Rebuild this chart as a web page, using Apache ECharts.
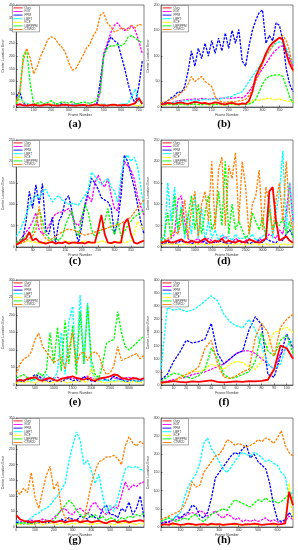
<!DOCTYPE html>
<html><head><meta charset="utf-8">
<script src="https://cdn.jsdelivr.net/npm/echarts@6/dist/echarts.min.js"></script>
<style>html,body{margin:0;padding:0;background:#fff}#c{width:298px;height:550px}</style>
</head><body><div id="c"></div>
<script>
const names = ["Ours","KGT","PPM","LBPT","KCF","LBP/PPM","CTMCD"];
const colors = ["#ff0000","#ff00ff","#0000ff","#00ffff","#ffff00","#00ff00","#ff8000"];
const captions = ["(a)","(b)","(c)","(d)","(e)","(f)","(g)","(h)"];

// (a)
const aFrames = [0,20,40,60,80,100,120,140,160,180,200,220,240,260,280,300,320,340,360,380,400,420,440,460,480,500,520,540,560,580,600,620,640,660,680,700,720];
const aOurs = [8,10,6,5,7,9,6,5,8,10,7,6,5,8,9,7,6,5,7,8,6,5,8,10,6,7,5,8,9,6,7,8,6,10,15,35,12];
const aKGT = [5,12,8,6,5,7,6,5,6,8,7,6,5,6,7,8,6,5,6,7,8,6,5,7,60,210,250,290,320,330,310,300,310,320,300,260,210];
const aPPM = [40,60,15,10,8,12,10,8,7,10,9,8,10,12,8,9,10,8,7,9,10,8,9,12,100,200,240,275,260,250,200,150,90,40,15,80,180];
const aLBPT = [10,40,20,15,10,8,12,10,9,8,10,12,9,8,10,9,8,10,12,9,8,10,9,8,10,12,8,10,9,8,12,10,15,40,70,20,15];
const aKCF = [15,30,20,12,8,10,15,8,6,10,12,8,5,7,10,8,6,5,8,7,10,6,5,8,10,7,6,8,5,7,9,6,8,10,7,5,8];
const aLBPPPM = [10,50,200,225,90,10,15,20,12,18,25,15,12,20,18,15,22,12,15,20,18,14,20,25,60,200,230,240,240,245,240,250,275,280,270,260,250];
const aCTMCD = [20,60,180,230,190,130,160,200,230,265,275,270,250,235,215,175,145,150,175,200,230,245,280,300,360,370,330,315,295,300,310,305,300,320,310,325,320];

// (b)
const bFrames = [0,10,20,30,40,50,60,70,80,90,100,110,120,130,140,150,160,170,180,190,200,210,220,230,240,250,260,270,280,290,300,310,320,330,340,350,360,370,380,390];
const bOurs = [5,6,8,7,6,8,9,7,6,8,10,9,7,8,6,7,9,8,6,5,7,8,6,5,7,6,12,30,60,75,88,105,118,126,131,136,132,105,85,72];
const bKGT = [3,5,6,8,10,12,13,14,15,15,16,15,17,16,15,16,17,16,18,17,18,17,18,19,18,22,30,40,55,65,75,85,95,105,112,118,120,110,95,80];
const bPPM = [5,8,12,18,22,30,28,40,70,110,80,115,95,125,100,130,105,135,110,145,115,150,125,152,90,80,120,150,170,185,190,125,140,130,165,160,130,75,45,30];
const bLBPT = [4,6,7,8,9,10,11,12,12,13,14,13,14,15,14,15,16,15,17,18,20,21,25,27,30,40,50,60,70,80,90,100,110,118,125,128,125,115,100,85];
const bKCF = [3,4,5,4,5,6,5,4,5,6,5,4,6,5,4,5,6,5,4,5,6,5,4,6,5,6,8,12,14,13,15,16,18,15,14,16,13,12,11,10];
const bLBPPPM = [5,4,6,5,4,5,6,5,4,5,6,5,4,6,5,4,5,6,5,4,5,6,5,4,6,5,6,8,15,30,45,55,60,62,63,63,60,40,20,8];
const bCTMCD = [8,10,12,15,18,22,28,34,45,60,50,55,60,50,45,40,20,12,10,9,10,11,10,12,13,15,22,35,50,65,85,100,110,120,130,135,140,130,110,70];

// (c)
const cFrames = bFrames.slice();
const cOurs = [5,10,15,20,35,15,20,12,10,8,10,12,8,10,9,12,8,10,11,9,10,8,12,10,10,40,75,30,10,9,12,10,10,55,66,30,10,8,12,15];
const cKGT = [10,15,25,35,45,60,80,40,30,35,50,65,78,80,82,85,90,75,55,50,70,95,120,105,150,168,150,140,160,120,90,85,150,200,190,180,160,120,95,75];
const cPPM = [5,8,20,60,130,90,145,100,148,40,30,70,10,60,75,110,120,85,40,10,50,100,130,160,150,135,115,110,105,90,30,60,120,215,200,170,140,100,60,30];
const cLBPT = [25,35,55,75,95,110,120,115,130,135,120,105,115,120,110,105,100,102,100,98,110,120,135,175,165,155,145,155,160,140,130,105,165,205,215,200,210,190,140,90];
const cKCF = [5,8,10,12,15,10,12,8,10,12,15,10,8,12,10,15,12,10,8,10,12,15,10,8,12,10,15,12,10,8,10,12,15,10,12,15,30,60,50,40];
const cLBPPPM = [10,15,20,25,30,35,60,90,60,30,20,15,20,15,25,50,70,85,40,25,70,100,80,40,25,30,40,60,90,45,30,60,25,35,50,60,70,75,80,85];
const cCTMCD = [5,8,10,15,20,25,40,95,30,20,15,20,25,30,35,40,42,40,38,35,30,28,30,32,35,38,40,42,45,48,50,52,55,60,65,70,80,90,100,110];

// (d)
const dFrames = [0,100,200,300,400,500,600,700,800,900,1000,1100,1200,1300,1400,1500,1600,1700,1800,1900,2000,2100,2200,2300,2400,2500,2600,2700,2800,2900,3000,3100,3200,3300,3400,3500,3600,3700,3800,3900];
const dOurs = [10,12,15,10,12,15,18,12,10,15,12,10,15,20,12,10,15,12,20,10,15,12,10,15,12,10,18,15,12,10,15,20,130,140,60,15,20,25,15,10];
const dKGT = [5,10,15,20,30,110,120,60,20,10,15,20,10,15,20,15,10,15,20,25,15,10,20,15,10,15,20,15,10,20,15,20,30,25,20,40,30,80,150,60];
const dPPM = [5,8,10,12,8,10,15,10,12,8,10,12,15,10,8,12,10,15,12,10,8,10,12,15,10,12,8,10,12,15,10,20,15,12,10,20,15,30,40,25];
const dLBPT = [20,10,150,60,140,30,100,20,80,30,120,20,90,15,60,20,40,15,30,20,25,15,30,20,20,25,20,30,15,20,25,30,120,20,80,130,225,40,150,60];
const dKCF = [5,6,8,5,7,6,5,8,6,5,7,6,8,5,6,7,5,6,8,5,7,6,5,8,6,5,7,6,8,5,6,7,5,6,8,5,7,6,5,8];
const dLBPPPM = [10,30,80,20,120,40,90,30,70,120,40,100,30,80,120,40,60,130,50,200,30,100,40,60,40,20,30,80,60,40,70,20,90,40,60,50,70,30,60,20];
const dCTMCD = [10,15,20,25,40,30,60,110,20,90,130,25,100,130,60,200,40,180,210,50,190,160,220,60,200,140,30,100,120,180,40,140,100,30,110,150,60,200,80,40];

// (e)
const eFrames = [0,100,200,300,400,500,600,700,800,900,1000,1100,1200,1300,1400,1500,1600,1700,1800,1900,2000,2100,2200,2300,2400,2500,2600,2700,2800,2900,3000,3100,3200,3300,3400];
const eOurs = [10,15,12,18,20,22,15,12,18,20,15,12,18,20,22,25,20,18,15,20,15,12,18,20,22,25,30,28,20,18,15,20,18,15,20];
const eKGT = [10,15,12,18,20,15,25,20,15,18,20,22,15,20,25,18,20,15,22,25,20,18,15,20,22,25,20,18,15,20,22,18,20,15,18];
const ePPM = [15,10,12,15,20,30,25,15,12,10,15,12,10,15,20,12,15,10,25,15,12,10,15,20,12,15,25,20,15,10,12,15,10,12,15];
const eLBPT = [10,12,15,10,12,15,20,15,30,20,15,40,150,30,180,225,50,257,60,235,40,20,15,12,15,10,12,15,10,12,15,10,12,10,15];
const eKCF = [5,8,6,10,8,6,12,8,10,6,8,10,12,8,6,10,8,12,10,8,50,15,10,8,6,10,8,12,10,8,6,10,8,6,8];
const eLBPPPM = [20,25,30,20,15,20,35,25,40,150,60,165,40,185,60,170,30,210,60,230,70,30,20,60,120,125,130,210,150,110,100,110,120,130,140];
const eCTMCD = [30,60,75,80,95,130,148,110,95,80,65,70,80,45,105,150,60,90,95,70,90,95,85,50,30,35,55,110,70,75,80,85,90,75,85];

// (f)
const fFrames = [0,5,10,15,20,25,30,35,40,45,50,55,60,65,70,75,80,85,90,95,100,105];
const fOurs = [10,12,15,12,10,14,12,15,18,12,10,12,14,12,15,14,16,20,60,150,140,100];
const fKGT = [10,15,20,25,30,40,45,50,60,70,80,100,120,130,130,120,100,80,60,120,140,100];
const fPPM = [20,40,90,125,170,160,165,175,235,120,80,100,120,130,210,260,230,40,30,110,195,140];
const fLBPT = [60,295,285,290,280,285,300,320,340,320,270,240,225,218,250,210,150,80,60,80,150,170];
const fKCF = [5,10,15,25,40,55,50,60,80,70,60,80,90,85,70,60,90,150,200,210,220,200];
const fLBPPPM = [15,30,45,40,30,25,35,60,140,100,40,25,30,40,50,90,200,130,110,170,190,120];
const fCTMCD = [5,10,15,30,40,50,70,140,170,80,30,25,35,50,60,180,235,200,110,220,250,270];

// (g)
const gFrames = [0,20,40,60,80,100,120,140,160,180,200,220,240,260,280,300,320,340,360,380,400,420,440,460,480,500,520,540,560,580,600,620,640,660,680];
const gOurs = [38,25,20,18,15,18,20,15,18,20,15,18,20,15,18,20,22,15,18,20,15,18,20,15,12,18,20,15,18,20,15,18,20,22,18];
const gKGT = [20,18,15,20,22,18,20,25,22,20,30,40,55,60,45,40,55,60,50,40,70,80,60,50,40,55,65,60,100,145,120,135,130,140,145];
const gPPM = [15,12,10,15,12,10,15,18,12,15,20,15,25,20,30,25,20,35,30,25,40,30,25,60,70,40,40,30,60,50,80,40,60,100,30];
const gLBPT = [20,15,10,20,30,40,45,55,60,70,85,100,120,140,210,260,305,280,200,215,180,140,170,100,45,70,50,90,140,185,195,190,195,185,180];
const gKCF = [10,8,12,10,8,10,12,8,10,12,10,8,12,10,8,12,10,15,12,10,8,12,10,15,12,10,8,12,10,15,12,10,8,12,10];
const gLBPPPM = [10,12,15,10,12,15,18,15,20,18,20,40,55,70,85,75,55,40,30,45,30,40,25,35,20,30,25,20,30,25,35,30,40,35,45];
const gCTMCD = [120,105,125,110,175,95,60,115,165,195,120,145,60,30,25,20,20,15,25,80,140,180,210,215,225,225,230,220,200,260,290,270,260,275,265];

// (h)
const hFrames = gFrames.slice();
const hOurs = [5,8,6,10,8,6,7,9,8,6,7,8,6,9,7,8,6,7,8,9,7,6,8,7,9,8,6,7,8,9,7,8,10,97,60];
const hKGT = [10,15,12,18,20,25,30,35,40,35,45,40,30,35,45,30,25,35,30,20,25,15,20,15,20,15,20,25,15,20,15,10,15,30,20];
const hPPM = [10,12,15,20,30,25,35,40,60,55,30,25,40,80,135,150,165,180,195,205,200,215,225,190,200,180,170,160,120,60,20,15,20,40,25];
const hLBPT = [15,20,25,20,30,40,80,110,130,145,175,230,245,215,200,180,160,150,165,180,195,205,200,195,205,200,190,180,185,175,170,150,140,80,100];
const hKCF = [5,6,8,5,7,6,5,8,6,5,7,6,8,5,6,7,5,6,8,5,7,6,5,8,6,5,7,6,8,5,6,7,10,120,20];
const hLBPPPM = [15,20,25,20,15,20,25,20,30,35,20,15,25,35,40,45,50,45,60,75,70,65,60,55,65,75,70,80,70,75,65,70,80,90,80];
const hCTMCD = [20,25,30,35,40,45,60,85,125,110,115,150,165,180,195,200,215,240,235,225,230,225,220,225,230,240,235,245,240,230,245,265,225,205,195];

const panels = [
  {frames:aFrames, vals:[aOurs,aKGT,aPPM,aLBPT,aKCF,aLBPPPM,aCTMCD], xMax:730, xInt:100, yMax:400, yInt:50},
  {frames:bFrames, vals:[bOurs,bKGT,bPPM,bLBPT,bKCF,bLBPPPM,bCTMCD], xMax:390, xInt:50, yMax:200, yInt:50},
  {frames:cFrames, vals:[cOurs,cKGT,cPPM,cLBPT,cKCF,cLBPPPM,cCTMCD], xMax:390, xInt:50, yMax:250, yInt:50},
  {frames:dFrames, vals:[dOurs,dKGT,dPPM,dLBPT,dKCF,dLBPPPM,dCTMCD], xMax:3900, xInt:500, yMax:250, yInt:50},
  {frames:eFrames, vals:[eOurs,eKGT,ePPM,eLBPT,eKCF,eLBPPPM,eCTMCD], xMax:3400, xInt:500, yMax:300, yInt:50},
  {frames:fFrames, vals:[fOurs,fKGT,fPPM,fLBPT,fKCF,fLBPPPM,fCTMCD], xMax:105, xInt:10, yMax:400, yInt:50},
  {frames:gFrames, vals:[gOurs,gKGT,gPPM,gLBPT,gKCF,gLBPPPM,gCTMCD], xMax:680, xInt:100, yMax:350, yInt:50},
  {frames:hFrames, vals:[hOurs,hKGT,hPPM,hLBPT,hKCF,hLBPPPM,hCTMCD], xMax:680, xInt:100, yMax:300, yInt:50}
];

const colLeft = [12, 161];
const rows = [{top:5,h:102,cap:124},{top:140,h:107,cap:261},{top:280,h:105,cap:402},{top:418,h:109,cap:540}];
const capX = [75, 224];

const grid=[], xAxis=[], yAxis=[], series=[], legend=[], graphic=[];
const lab = {fontSize:3.5, color:'#333', margin:1.5, fontFamily:'Liberation Sans', formatter: v => String(v)};
panels.forEach((p, i) => {
  const c = i % 2, r = Math.floor(i/2);
  const L = colLeft[c], T = rows[r].top, H = rows[r].h;
  grid.push({left:L, top:T, width:132, height:H, show:true, borderColor:'#000', borderWidth:0.5, backgroundColor:'#fff'});
  xAxis.push({type:'value', gridIndex:i, min:0, max:p.xMax, interval:p.xInt,
    name:'Frame Number', nameLocation:'middle', nameGap:5.5, nameTextStyle:{fontSize:3.5, color:'#333'},
    axisLine:{lineStyle:{color:'#000', width:0.5}}, axisTick:{inside:true, length:1.5, lineStyle:{color:'#000',width:0.5}},
    axisLabel:Object.assign({showMaxLabel:false}, lab), splitLine:{show:false}});
  yAxis.push({type:'value', gridIndex:i, min:0, max:p.yMax, interval:p.yInt,
    name:'Center Location Error', nameLocation:'middle', nameGap:8, nameRotate:90, nameTextStyle:{fontSize:3.5, color:'#333'},
    axisLine:{show:true, lineStyle:{color:'#000', width:0.5}}, axisTick:{show:true, inside:true, length:1.5, lineStyle:{color:'#000',width:0.5}},
    axisLabel:lab, splitLine:{show:false}});
  p.vals.forEach((v, k) => {
    series.push({type:'line', name:names[k], xAxisIndex:i, yAxisIndex:i, showSymbol:false, symbol:'none',
      z: k===0 ? 5 : 3,
      data: p.frames.map((f, j) => [f, v[j]]),
      lineStyle: k===0 ? {color:colors[k], width:1.8, type:'solid'} : {color:colors[k], width:1.3, type:[2.5,1.2]},
      itemStyle:{color:colors[k]}});
  });
  legend.push({orient:'vertical', left:L+0.5, top:T+0.5, data:names, backgroundColor:'#fff', borderColor:'#555', borderWidth:0.5,
    padding:[0.8,2,0.8,1], itemGap:0.4, itemWidth:9, itemHeight:2.5, icon:'path://M0,0L10,0L10,1L0,1Z',
    textStyle:{fontSize:3, lineHeight:3.2, color:'#333', padding:[0,0,0,-3]}, selectedMode:false});
  graphic.push({type:'text', x:capX[c], y:rows[r].cap, style:{text:captions[i], font:'bold 11px "Liberation Serif"', fill:'#000', textAlign:'center', textVerticalAlign:'middle'}});
});

const chart = echarts.init(document.getElementById('c'), null, {renderer:'canvas'});
chart.setOption({animation:false, backgroundColor:'#fff', grid, xAxis, yAxis, series, legend, graphic});
</script></body></html>
